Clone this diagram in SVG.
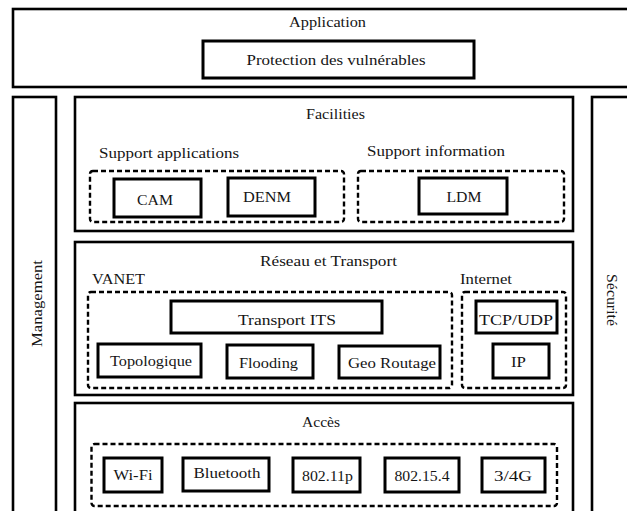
<svg xmlns="http://www.w3.org/2000/svg" width="627" height="511" viewBox="0 0 627 511">
<style>
.box{fill:#fff;stroke:#000;stroke-width:2.6}
.inner{fill:#fff;stroke:#000;stroke-width:3}
.dash{fill:none;stroke:#000;stroke-width:2.4;stroke-dasharray:5 3}
text{font-family:"Liberation Serif","Times New Roman","DejaVu Serif",serif;font-size:15px;fill:#151515;text-anchor:middle;dominant-baseline:central}
.l{text-anchor:start}
</style>
<rect width="627" height="511" fill="#fff"/>
<g id="application">
<rect class="box" x="13" y="9" width="625" height="78"/>
<text x="327.5" y="22" textLength="77" lengthAdjust="spacingAndGlyphs">Application</text>
</g>
<g id="protection">
<rect class="inner" x="203" y="41" width="271" height="37"/>
<text x="336" y="60" textLength="179" lengthAdjust="spacingAndGlyphs">Protection des vulnérables</text>
</g>
<g id="management">
<rect class="box" x="13" y="97" width="43" height="430"/>
<text transform="translate(37,303.5) rotate(-90)" textLength="87" lengthAdjust="spacingAndGlyphs">Management</text>
</g>
<g id="securite">
<rect class="box" x="592" y="97" width="50" height="430"/>
<text transform="translate(612,300) rotate(90)" textLength="52" lengthAdjust="spacingAndGlyphs">Sécurité</text>
</g>
<g id="facilities">
<rect class="box" x="75" y="97" width="498" height="134"/>
<text x="335.5" y="113.5" textLength="59" lengthAdjust="spacingAndGlyphs">Facilities</text>
<text class="l" x="99" y="152.5" textLength="140" lengthAdjust="spacingAndGlyphs">Support applications</text>
<rect class="dash" x="90" y="171" width="254" height="51" rx="3"/>
<text class="l" x="367" y="151" textLength="138" lengthAdjust="spacingAndGlyphs">Support information</text>
<rect class="dash" x="358" y="171" width="206" height="51" rx="3"/>
</g>
<g id="cam"><rect class="inner" x="114" y="179" width="87" height="38"/><text x="155" y="200" textLength="36" lengthAdjust="spacingAndGlyphs">CAM</text></g>
<g id="denm"><rect class="inner" x="228" y="178" width="87" height="38"/><text x="267" y="197" textLength="48" lengthAdjust="spacingAndGlyphs">DENM</text></g>
<g id="ldm"><rect class="inner" x="419" y="178" width="88" height="36"/><text x="464" y="197" textLength="35" lengthAdjust="spacingAndGlyphs">LDM</text></g>
<g id="reseau">
<rect class="box" x="75" y="242" width="498" height="153"/>
<text x="328.5" y="261" textLength="137" lengthAdjust="spacingAndGlyphs">Réseau et Transport</text>
<text class="l" x="92" y="279" textLength="53" lengthAdjust="spacingAndGlyphs">VANET</text>
<rect class="dash" x="88" y="292" width="364" height="96" rx="3"/>
<text class="l" x="460" y="279" textLength="52" lengthAdjust="spacingAndGlyphs">Internet</text>
<rect class="dash" x="462" y="292" width="104" height="96" rx="3"/>
</g>
<g id="transport-its"><rect class="inner" x="171" y="301" width="211" height="32"/><text x="287" y="320" textLength="98" lengthAdjust="spacingAndGlyphs">Transport ITS</text></g>
<g id="topologique"><rect class="inner" x="98" y="344" width="103" height="33"/><text x="151" y="361" textLength="82" lengthAdjust="spacingAndGlyphs">Topologique</text></g>
<g id="flooding"><rect class="inner" x="227" y="345" width="86" height="33"/><text x="268.5" y="363" textLength="59" lengthAdjust="spacingAndGlyphs">Flooding</text></g>
<g id="geo-routage"><rect class="inner" x="339" y="346" width="101" height="32"/><text x="392" y="363" textLength="88" lengthAdjust="spacingAndGlyphs">Geo Routage</text></g>
<g id="tcp-udp"><rect class="inner" x="476" y="301" width="81" height="32"/><text x="516" y="320" textLength="74" lengthAdjust="spacingAndGlyphs">TCP/UDP</text></g>
<g id="ip"><rect class="inner" x="493" y="344" width="56" height="34"/><text x="518.5" y="362" textLength="15" lengthAdjust="spacingAndGlyphs">IP</text></g>
<g id="acces">
<rect class="box" x="75" y="403" width="498" height="130"/>
<text x="321" y="422" textLength="38" lengthAdjust="spacingAndGlyphs">Accès</text>
<rect class="dash" x="91.5" y="444" width="465.5" height="62" rx="3"/>
</g>
<g id="wifi"><rect class="inner" x="104" y="458" width="58" height="34"/><text x="133" y="475" textLength="39" lengthAdjust="spacingAndGlyphs">Wi-Fi</text></g>
<g id="bluetooth"><rect class="inner" x="183" y="458" width="86" height="33"/><text x="227" y="473" textLength="67" lengthAdjust="spacingAndGlyphs">Bluetooth</text></g>
<g id="p80211p"><rect class="inner" x="293" y="458" width="67" height="34"/><text x="327.5" y="476" textLength="51" lengthAdjust="spacingAndGlyphs">802.11p</text></g>
<g id="p802154"><rect class="inner" x="385" y="458" width="74" height="34"/><text x="422" y="476" textLength="55" lengthAdjust="spacingAndGlyphs">802.15.4</text></g>
<g id="g34"><rect class="inner" x="482" y="458" width="63" height="34"/><text x="513" y="476" textLength="38" lengthAdjust="spacingAndGlyphs">3/4G</text></g>
<g id="connectors"></g>
</svg>
